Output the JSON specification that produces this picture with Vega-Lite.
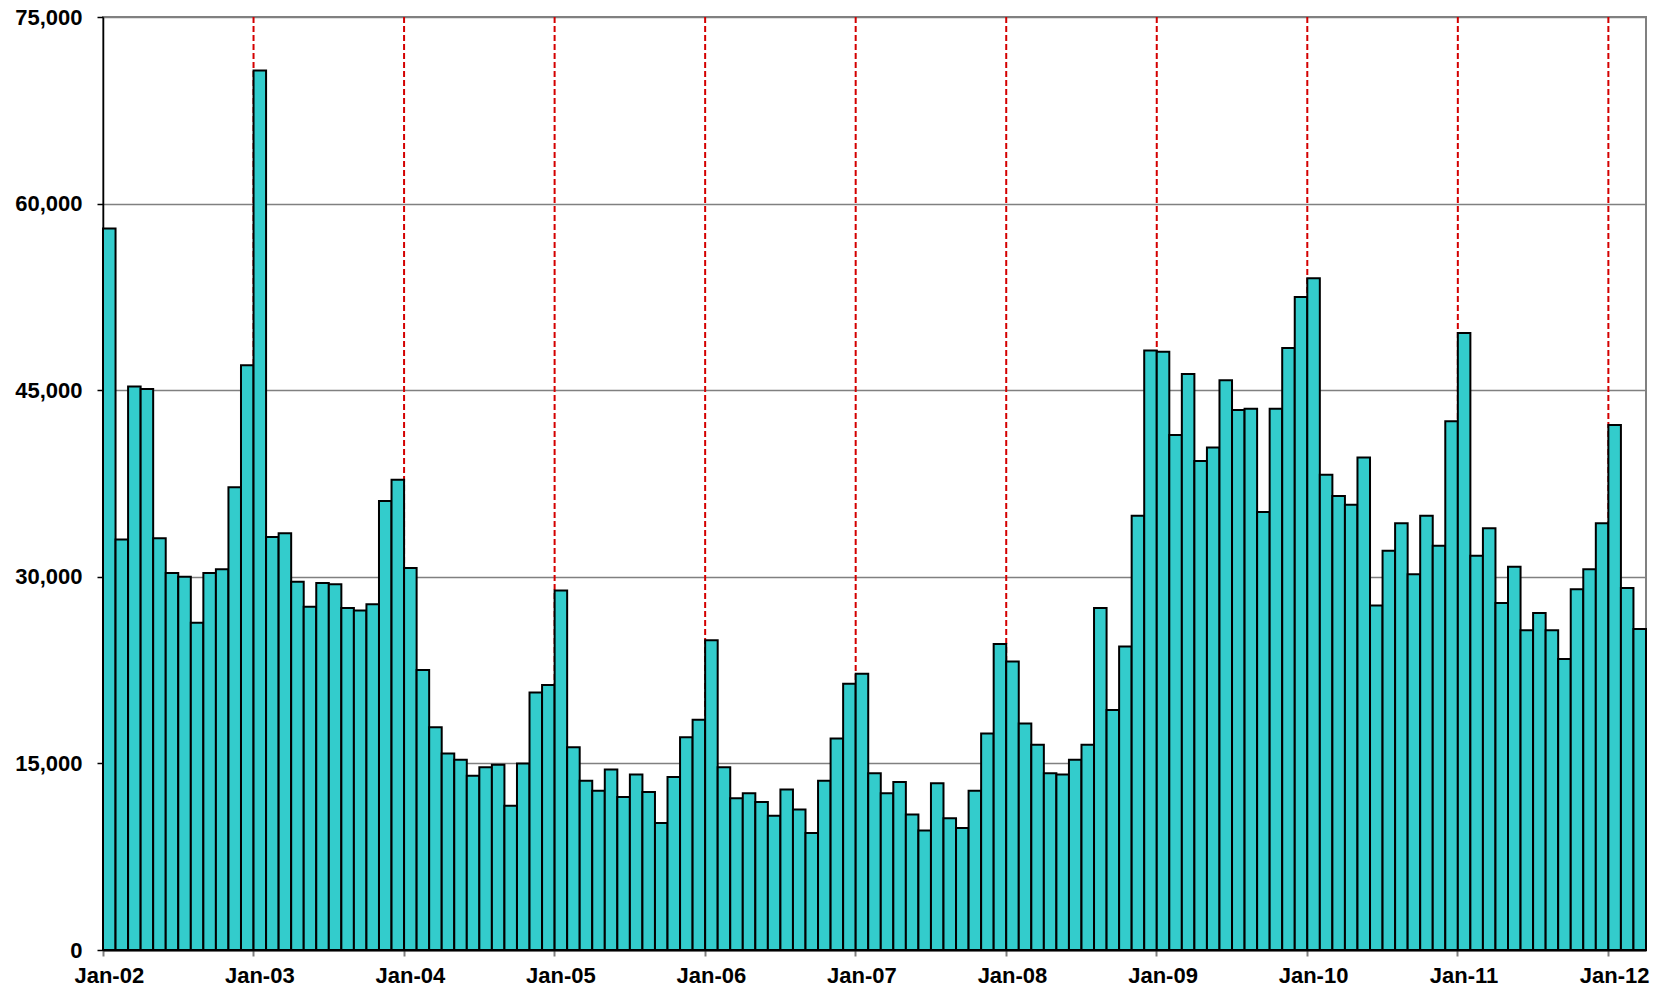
{
  "$schema": "https://vega.github.io/schema/vega-lite/v6.json",
  "width": 1543,
  "height": 933,
  "autosize": {"type": "none"},
  "padding": {"left": 103, "top": 17, "right": 16, "bottom": 38},
  "background": "white",
  "config": {
    "view": {"stroke": "#808080", "strokeWidth": 2},
    "font": "Liberation Sans"
  },
  "data": {
    "values": [
      {"m":"Jan-02","v":58000},{"m":"Feb-02","v":33000},{"m":"Mar-02","v":45300},{"m":"Apr-02","v":45100},{"m":"May-02","v":33100},{"m":"Jun-02","v":30300},{"m":"Jul-02","v":30000},{"m":"Aug-02","v":26300},{"m":"Sep-02","v":30300},{"m":"Oct-02","v":30600},{"m":"Nov-02","v":37200},{"m":"Dec-02","v":47000},
      {"m":"Jan-03","v":70700},{"m":"Feb-03","v":33200},{"m":"Mar-03","v":33500},{"m":"Apr-03","v":29600},{"m":"May-03","v":27600},{"m":"Jun-03","v":29500},{"m":"Jul-03","v":29400},{"m":"Aug-03","v":27500},{"m":"Sep-03","v":27300},{"m":"Oct-03","v":27800},{"m":"Nov-03","v":36100},{"m":"Dec-03","v":37800},
      {"m":"Jan-04","v":30700},{"m":"Feb-04","v":22500},{"m":"Mar-04","v":17900},{"m":"Apr-04","v":15800},{"m":"May-04","v":15300},{"m":"Jun-04","v":14000},{"m":"Jul-04","v":14700},{"m":"Aug-04","v":14900},{"m":"Sep-04","v":11600},{"m":"Oct-04","v":15000},{"m":"Nov-04","v":20700},{"m":"Dec-04","v":21300},
      {"m":"Jan-05","v":28900},{"m":"Feb-05","v":16300},{"m":"Mar-05","v":13600},{"m":"Apr-05","v":12800},{"m":"May-05","v":14500},{"m":"Jun-05","v":12300},{"m":"Jul-05","v":14100},{"m":"Aug-05","v":12700},{"m":"Sep-05","v":10200},{"m":"Oct-05","v":13900},{"m":"Nov-05","v":17100},{"m":"Dec-05","v":18500},
      {"m":"Jan-06","v":24900},{"m":"Feb-06","v":14700},{"m":"Mar-06","v":12200},{"m":"Apr-06","v":12600},{"m":"May-06","v":11900},{"m":"Jun-06","v":10800},{"m":"Jul-06","v":12900},{"m":"Aug-06","v":11300},{"m":"Sep-06","v":9400},{"m":"Oct-06","v":13600},{"m":"Nov-06","v":17000},{"m":"Dec-06","v":21400},
      {"m":"Jan-07","v":22200},{"m":"Feb-07","v":14200},{"m":"Mar-07","v":12600},{"m":"Apr-07","v":13500},{"m":"May-07","v":10900},{"m":"Jun-07","v":9600},{"m":"Jul-07","v":13400},{"m":"Aug-07","v":10600},{"m":"Sep-07","v":9800},{"m":"Oct-07","v":12800},{"m":"Nov-07","v":17400},{"m":"Dec-07","v":24600},
      {"m":"Jan-08","v":23200},{"m":"Feb-08","v":18200},{"m":"Mar-08","v":16500},{"m":"Apr-08","v":14200},{"m":"May-08","v":14100},{"m":"Jun-08","v":15300},{"m":"Jul-08","v":16500},{"m":"Aug-08","v":27500},{"m":"Sep-08","v":19300},{"m":"Oct-08","v":24400},{"m":"Nov-08","v":34900},{"m":"Dec-08","v":48200},
      {"m":"Jan-09","v":48100},{"m":"Feb-09","v":41400},{"m":"Mar-09","v":46300},{"m":"Apr-09","v":39300},{"m":"May-09","v":40400},{"m":"Jun-09","v":45800},{"m":"Jul-09","v":43400},{"m":"Aug-09","v":43500},{"m":"Sep-09","v":35200},{"m":"Oct-09","v":43500},{"m":"Nov-09","v":48400},{"m":"Dec-09","v":52500},
      {"m":"Jan-10","v":54000},{"m":"Feb-10","v":38200},{"m":"Mar-10","v":36500},{"m":"Apr-10","v":35800},{"m":"May-10","v":39600},{"m":"Jun-10","v":27700},{"m":"Jul-10","v":32100},{"m":"Aug-10","v":34300},{"m":"Sep-10","v":30200},{"m":"Oct-10","v":34900},{"m":"Nov-10","v":32500},{"m":"Dec-10","v":42500},
      {"m":"Jan-11","v":49600},{"m":"Feb-11","v":31700},{"m":"Mar-11","v":33900},{"m":"Apr-11","v":27900},{"m":"May-11","v":30800},{"m":"Jun-11","v":25700},{"m":"Jul-11","v":27100},{"m":"Aug-11","v":25700},{"m":"Sep-11","v":23400},{"m":"Oct-11","v":29000},{"m":"Nov-11","v":30600},{"m":"Dec-11","v":34300},
      {"m":"Jan-12","v":42200},{"m":"Feb-12","v":29100},{"m":"Mar-12","v":25800}
    ]
  },
  "layer": [
    {
      "mark": {"type": "rule", "color": "#D40000", "strokeWidth": 2, "strokeDash": [6, 3]},
      "encoding": {
        "x": {"field": "m", "type": "ordinal", "sort": null, "bandPosition": 0},
        "strokeOpacity": {
          "condition": {"test": "indexof(datum.m, 'Jan') == 0 && datum.m != 'Jan-02'", "value": 1},
          "value": 0
        }
      }
    },
    {
      "mark": {"type": "bar", "fill": "#33CCCC", "stroke": "#000000", "strokeWidth": 2},
      "encoding": {
        "x": {
          "field": "m", "type": "ordinal", "sort": null,
          "scale": {"paddingInner": 0, "paddingOuter": 0},
          "axis": {
            "title": null,
            "values": ["Jan-02","Jan-03","Jan-04","Jan-05","Jan-06","Jan-07","Jan-08","Jan-09","Jan-10","Jan-11","Jan-12"],
            "bandPosition": 0,
            "labelAngle": 0,
            "labelAlign": "center",
            "labelOffset": 0,
            "labelFont": "Liberation Sans",
            "labelFontWeight": "bold",
            "labelFontSize": 22,
            "labelColor": "#000000",
            "labelPadding": 9,
            "labelBaseline": "top",
            "tickSize": 6,
            "tickColor": "#808080",
            "tickWidth": 2,
            "domainColor": "#000000",
            "domainWidth": 2,
            "grid": false
          }
        },
        "y": {
          "field": "v", "type": "quantitative",
          "scale": {"domain": [0, 75000], "nice": false},
          "axis": {
            "title": null,
            "values": [0, 15000, 30000, 45000, 60000, 75000],
            "format": ",d",
            "labelFont": "Liberation Sans",
            "labelFontWeight": "bold",
            "labelFontSize": 22,
            "labelColor": "#000000",
            "labelPadding": 15,
            "tickSize": 6,
            "tickColor": "#000000",
            "tickWidth": 1.5,
            "domainColor": "#000000",
            "domainWidth": 1.5,
            "grid": true,
            "gridColor": "#808080",
            "gridWidth": 1.5
          }
        }
      }
    }
  ]
}
